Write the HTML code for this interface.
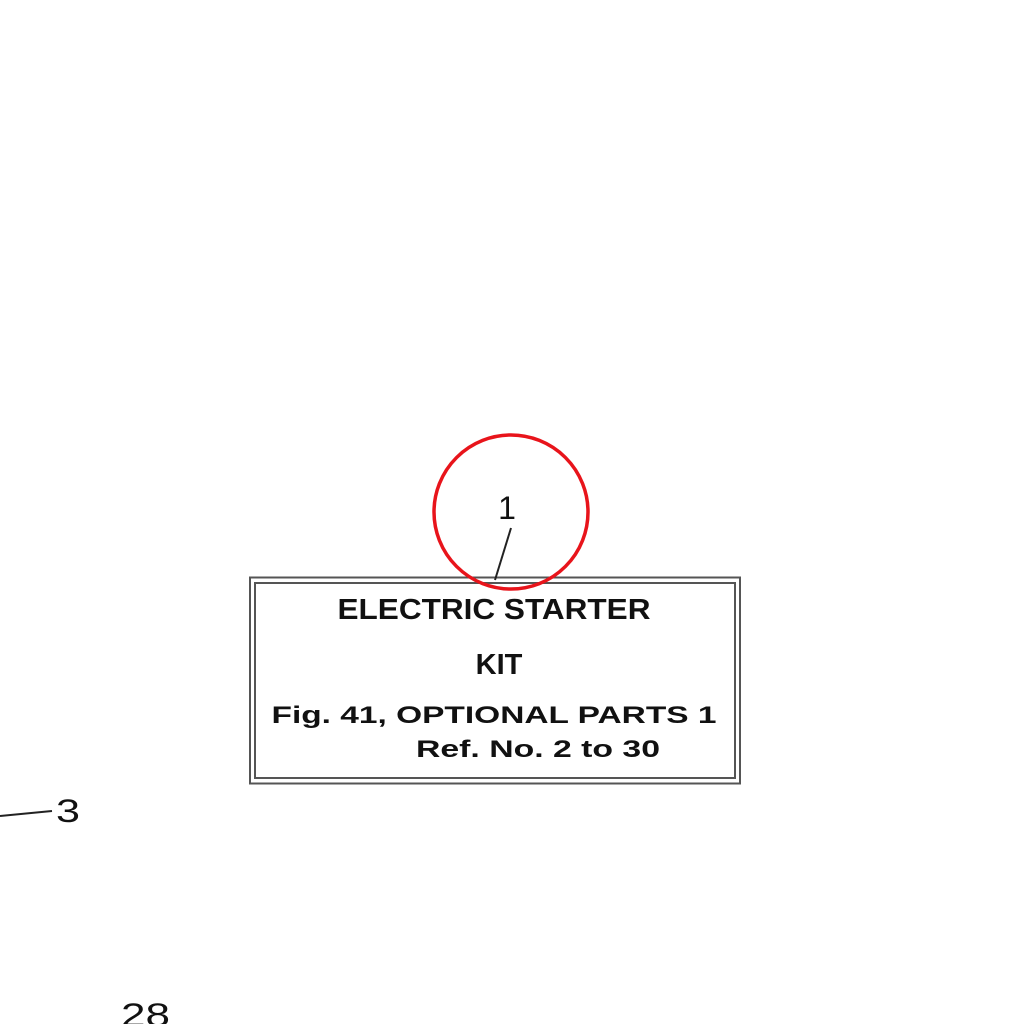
<!DOCTYPE html>
<html><head><style>
html,body{margin:0;padding:0;background:#fff;}
svg{display:block}
</style></head><body>
<svg width="1024" height="1024" viewBox="0 0 1024 1024" xmlns="http://www.w3.org/2000/svg">
<rect width="1024" height="1024" fill="#fff"/>
<rect x="250" y="577.5" width="490" height="206" fill="none" stroke="#555" stroke-width="2"/>
<rect x="255" y="583" width="480" height="195" fill="none" stroke="#555" stroke-width="2"/>
<line x1="511" y1="528" x2="495" y2="580" stroke="#222" stroke-width="2"/>
<circle cx="511" cy="512" r="77" fill="none" stroke="#e8141b" stroke-width="3.5"/>
<g font-family="Liberation Sans, sans-serif" fill="#111">
<text x="507" y="519" font-size="32" text-anchor="middle">1</text>
<text x="494" y="619" font-size="29" font-weight="bold" text-anchor="middle" textLength="313" lengthAdjust="spacingAndGlyphs">ELECTRIC  STARTER</text>
<text x="499" y="674" font-size="29" font-weight="bold" text-anchor="middle">KIT</text>
<text x="494" y="723" font-size="24" font-weight="bold" text-anchor="middle" textLength="445" lengthAdjust="spacingAndGlyphs">Fig. 41, OPTIONAL PARTS 1</text>
<text x="416" y="757" font-size="24" font-weight="bold" textLength="244" lengthAdjust="spacingAndGlyphs">Ref. No. 2 to 30</text>
<text x="56" y="822" font-size="32" textLength="24" lengthAdjust="spacingAndGlyphs">3</text>
<text x="121" y="1026" font-size="32" textLength="49" lengthAdjust="spacingAndGlyphs">28</text>
</g>
<line x1="0" y1="816" x2="52" y2="811" stroke="#222" stroke-width="2"/>
</svg>
</body></html>
